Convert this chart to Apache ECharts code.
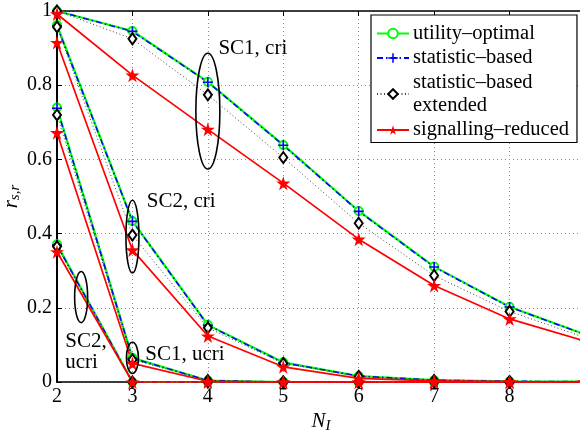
<!DOCTYPE html>
<html>
<head>
<meta charset="utf-8">
<script src="https://cdn.jsdelivr.net/npm/echarts@6/dist/echarts.min.js"></script>
<style>
  html, body { margin: 0; padding: 0; background: #fff; }
  #chart { width: 580px; height: 432px; }
</style>
</head>
<body>
<div id="chart"></div>
<script>
// Number of interferers on the x axis
const nValues = [2, 3, 4, 5, 6, 7, 8, 9];

// utility-optimal
const optSc1Cri  = [1.000, 0.946, 0.809, 0.639, 0.461, 0.311, 0.203, 0.128];
const optSc2Cri  = [0.962, 0.434, 0.154, 0.053, 0.016, 0.005, 0.002, 0.001];
const optSc1Ucri = [0.740, 0.065, 0.004, 0.000, 0.000, 0.000, 0.000, 0.000];
const optSc2Ucri = [0.371, 0.000, 0.000, 0.000, 0.000, 0.000, 0.000, 0.000];

// statistic-based
const statSc1Cri  = [1.000, 0.945, 0.808, 0.638, 0.460, 0.310, 0.202, 0.128];
const statSc2Cri  = [0.960, 0.433, 0.153, 0.052, 0.016, 0.005, 0.002, 0.001];
const statSc1Ucri = [0.738, 0.064, 0.004, 0.000, 0.000, 0.000, 0.000, 0.000];
const statSc2Ucri = [0.369, 0.000, 0.000, 0.000, 0.000, 0.000, 0.000, 0.000];

// statistic-based extended
const extSc1Cri  = [1.000, 0.925, 0.774, 0.605, 0.428, 0.287, 0.190, 0.120];
const extSc2Cri  = [0.957, 0.396, 0.146, 0.050, 0.015, 0.004, 0.001, 0.000];
const extSc1Ucri = [0.720, 0.060, 0.004, 0.000, 0.000, 0.000, 0.000, 0.000];
const extSc2Ucri = [0.365, 0.000, 0.000, 0.000, 0.000, 0.000, 0.000, 0.000];

// signalling-reduced
const sigSc1Cri  = [0.992, 0.827, 0.681, 0.536, 0.385, 0.260, 0.170, 0.110];
const sigSc2Cri  = [0.915, 0.356, 0.124, 0.041, 0.010, 0.003, 0.001, 0.000];
const sigSc1Ucri = [0.672, 0.050, 0.002, 0.000, 0.000, 0.000, 0.000, 0.000];
const sigSc2Ucri = [0.351, 0.000, 0.000, 0.000, 0.000, 0.000, 0.000, 0.000];

const methodNames = [
  'utility\u2013optimal',
  'statistic\u2013based',
  'statistic\u2013based\nextended',
  'signalling\u2013reduced'
];

// Scenario annotations, placed in data coordinates: [x, y, rx(px), ry(data)]
const ellipses = [
  [4.00, 0.730, 12, 0.156],
  [3.00, 0.392, 6.5, 0.098],
  [2.32, 0.229, 6.5, 0.069],
  [3.00, 0.065, 6, 0.042]
];
const labels = [
  ['SC1, cri', 4.14, 0.900],
  ['SC2, cri', 3.19, 0.486],
  ['SC2,\nucri', 2.11, 0.081],
  ['SC1, ucri', 3.17, 0.073]
];

const SERIF = '"Liberation Serif", "Times New Roman", serif';
const STAR = 'path://M50,0 L61,35 L98,35 L68,57 L79,91 L50,70 L21,91 L32,57 L2,35 L39,35 Z';
const PLUS = 'path://M4.2,0 H5.8 V4.2 H10 V5.8 H5.8 V10 H4.2 V5.8 H0 V4.2 H4.2 Z';

const styles = [
  { color: '#00ff00', line: { width: 2.2, type: 'solid' }, symbol: 'emptyCircle', size: 8, border: 1.5 },
  { color: '#0000ff', line: { width: 1.5, type: [6, 3, 1.5, 3] }, symbol: PLUS, size: 10, border: 0 },
  { color: '#000000', line: { width: 1, type: [1, 2.5], color: '#444' }, symbol: 'emptyDiamond', size: [8, 11], border: 1.8 },
  { color: '#ff0000', line: { width: 1.7, type: 'solid' }, symbol: STAR, size: 14, border: 0 }
];

const groups = [
  [optSc1Cri, optSc2Cri, optSc1Ucri, optSc2Ucri],
  [statSc1Cri, statSc2Cri, statSc1Ucri, statSc2Ucri],
  [extSc1Cri, extSc2Cri, extSc1Ucri, extSc2Ucri],
  [sigSc1Cri, sigSc2Cri, sigSc1Ucri, sigSc2Ucri]
];

const series = [];
groups.forEach((curves, m) => {
  const st = styles[m];
  curves.forEach(vals => {
    series.push({
      name: methodNames[m],
      type: 'line',
      xAxisIndex: 0,
      data: nValues.map((n, i) => [n, vals[i]]),
      symbol: st.symbol,
      symbolSize: st.size,
      showAllSymbol: true,
      animation: false,
      silent: true,
      clip: false,
      lineStyle: { color: st.line.color || st.color, width: st.line.width, type: st.line.type },
      itemStyle: { color: st.color, borderColor: st.color, borderWidth: st.border }
    });
  });
});

const chart = echarts.init(document.getElementById('chart'), null, { renderer: 'canvas' });

const axisLabelStyle = { fontFamily: SERIF, fontSize: 20, color: '#000' };

chart.setOption({
  backgroundColor: '#fff',
  animation: false,
  grid: { left: 57, top: 11, width: 528, height: 371, show: false, containLabel: false, outerBoundsMode: 'none' },
  xAxis: [
    {
      type: 'value', min: 2, max: 9, interval: 1, position: 'bottom',
      axisLine: { show: true, lineStyle: { color: '#000', width: 1.5 } },
      axisTick: { show: true, inside: true, length: 5, lineStyle: { color: '#000' } },
      axisLabel: Object.assign({ margin: 5 }, axisLabelStyle),
      splitLine: { show: true, lineStyle: { color: '#8c8c8c', type: [1, 3], width: 1 } },
      name: '{n|N}{s|I}', nameLocation: 'middle', nameGap: 27, nameMoveOverlap: false,
      nameTextStyle: {
        rich: {
          n: { fontFamily: SERIF, fontStyle: 'italic', fontSize: 21, color: '#000' },
          s: { fontFamily: SERIF, fontStyle: 'italic', fontSize: 15, color: '#000', padding: [10, 0, 0, 0] }
        }
      }
    },
    {
      type: 'value', min: 2, max: 9, interval: 1, position: 'top',
      axisLine: { show: true, lineStyle: { color: '#000', width: 1.5 } },
      axisTick: { show: true, inside: true, length: 5, lineStyle: { color: '#000' } },
      axisLabel: { show: false },
      splitLine: { show: false }
    }
  ],
  yAxis: {
    type: 'value', min: 0, max: 1, interval: 0.2,
    axisLine: { show: true, lineStyle: { color: '#000', width: 2 } },
    axisTick: { show: true, inside: true, length: 5, lineStyle: { color: '#000' } },
    axisLabel: Object.assign({ margin: 5 }, axisLabelStyle),
    splitLine: { show: true, lineStyle: { color: '#8c8c8c', type: [1, 3], width: 1 } },
    name: '{r|r}{s|s,r}', nameLocation: 'middle', nameGap: 34, nameRotate: 90, nameMoveOverlap: false,
    nameTextStyle: {
      rich: {
        r: { fontFamily: SERIF, fontStyle: 'italic', fontSize: 21, color: '#000' },
        s: { fontFamily: SERIF, fontStyle: 'italic', fontSize: 15, color: '#000', padding: [8, 0, 0, 0] }
      }
    }
  },
  legend: {
    data: methodNames,
    orient: 'vertical',
    left: 371, top: 15,
    padding: [7, 8, 1, 5],
    itemGap: 1.5,
    itemWidth: 32, itemHeight: 12,
    backgroundColor: '#fff',
    borderColor: '#000', borderWidth: 1.2,
    borderRadius: 0,
    selectedMode: false,
    textStyle: { fontFamily: SERIF, fontSize: 20.5, color: '#000', lineHeight: 23, padding: [0, 0, 0, -1] }
  },
  series: series
});

// Scenario ellipses and their captions
const graphic = [];
ellipses.forEach(([x, y, rx, ry]) => {
  const c = chart.convertToPixel({ gridIndex: 0 }, [x, y]);
  const t = chart.convertToPixel({ gridIndex: 0 }, [x, y + ry]);
  graphic.push({
    type: 'ellipse', silent: true, z: 100,
    shape: { cx: c[0], cy: c[1], rx: rx, ry: Math.abs(c[1] - t[1]) },
    style: { fill: 'none', stroke: '#000', lineWidth: 1.6 }
  });
});
labels.forEach(([txt, x, y]) => {
  const p = chart.convertToPixel({ gridIndex: 0 }, [x, y]);
  graphic.push({
    type: 'text', silent: true, z: 100,
    x: p[0], y: p[1],
    style: {
      text: txt, fill: '#000', font: '21px ' + SERIF,
      textAlign: 'left', textVerticalAlign: 'middle', lineHeight: 21
    }
  });
});
chart.setOption({ graphic: graphic });
</script>
</body>
</html>
